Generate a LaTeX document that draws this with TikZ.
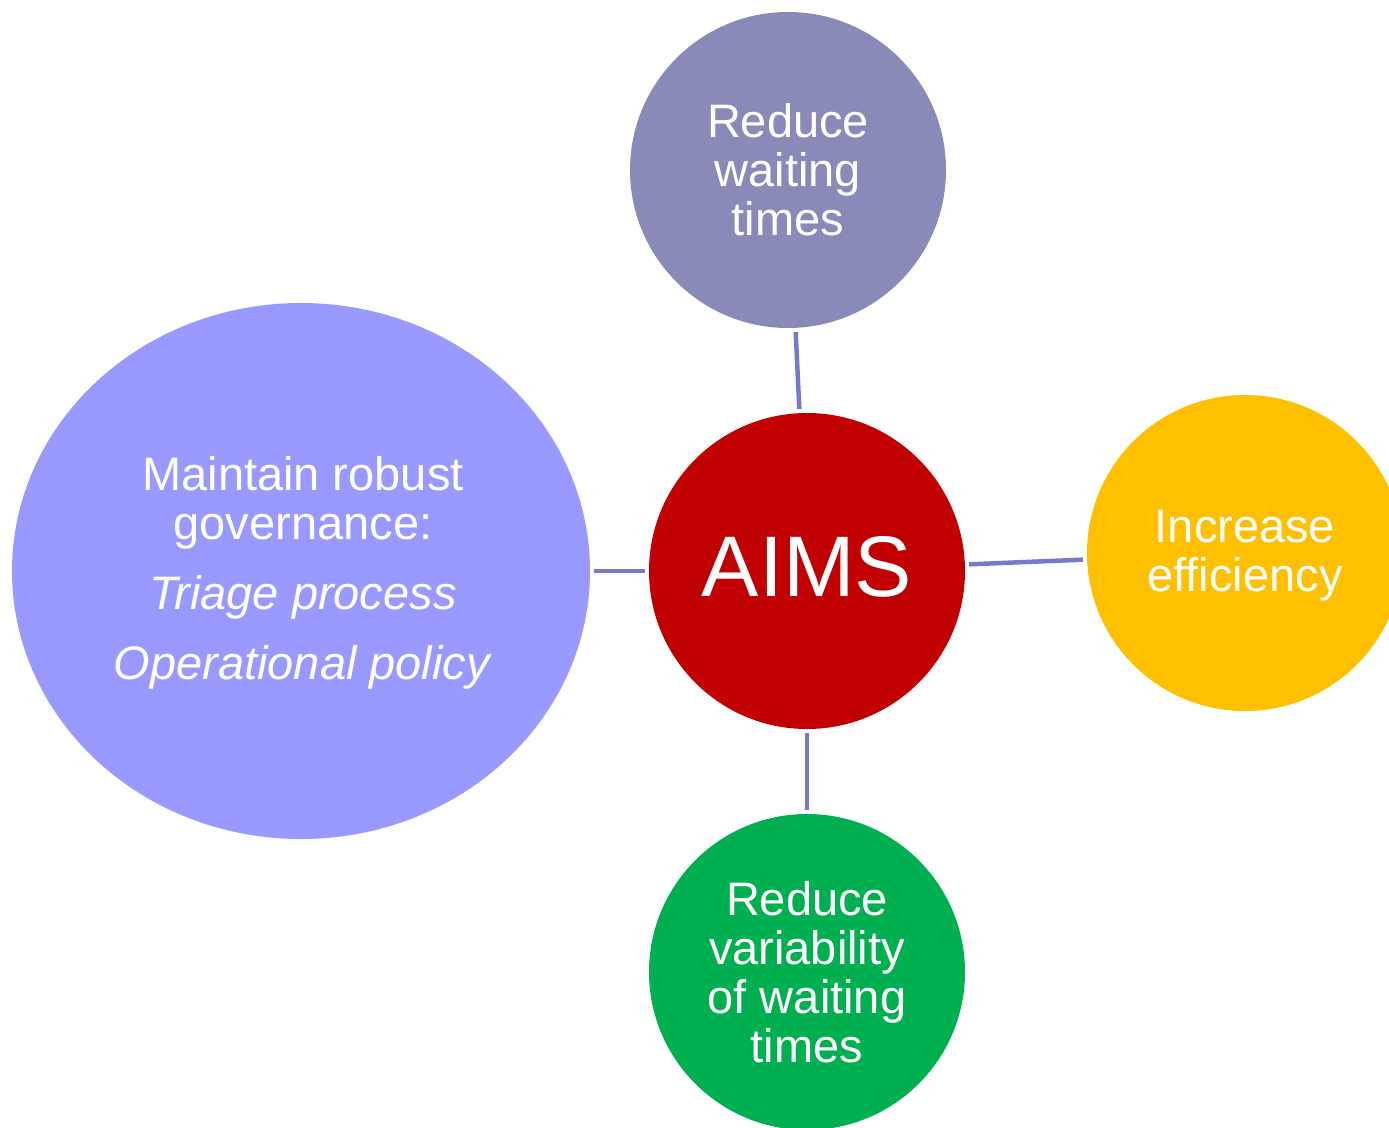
\documentclass[tikz,border=0pt]{standalone}
\usepackage{fontspec}
\setmainfont{Liberation Sans}
\usetikzlibrary{shapes.geometric}
\definecolor{aimsred}{HTML}{C00000}
\definecolor{waitpurple}{HTML}{8A8AB8}
\definecolor{effgold}{HTML}{FFC000}
\definecolor{varigreen}{HTML}{00B050}
\definecolor{govblue}{HTML}{9999FF}
\definecolor{linkblue}{HTML}{7878CC}
\begin{document}
\begin{tikzpicture}[x=1pt,y=-1pt,
  bubble/.style={circle,minimum size=316pt,inner sep=0pt,draw=none,
    text=white,align=center,font=\fontsize{47}{49}\selectfont},
  link/.style={draw=linkblue,line width=4.5pt,shorten <=4pt,shorten >=4pt}]
  \useasboundingbox (0,0) rectangle (1389,1127);
  \clip (0,0) rectangle (1389,1127);
  % hub and goals
  \node[bubble,fill=aimsred] (aims) at (807,571) {};
  \node[text=white,font=\fontsize{86}{90}\selectfont] (aimslabel) at (807,567) {AIMS};
  \node[bubble,fill=waitpurple] (wait) at (788,170) {Reduce\\waiting\\times};
  \node[bubble,fill=effgold] (eff) at (1245,553) {};
  \node[text=white,align=center,font=\fontsize{47}{49}\selectfont] (efflabel) at (1245,556) {Increase\\efficiency};
  \node[bubble,fill=varigreen] (vari) at (807,972) {Reduce\\variability\\of waiting\\times};
  \node[ellipse,minimum width=578pt,minimum height=536pt,inner sep=0pt,
    fill=govblue] (gov) at (301,571) {};
  \node[text=white,align=center,font=\fontsize{47}{49}\selectfont] (govlabel) at (303,573)
    {Maintain robust\\governance:\\[21pt]\textit{Triage process}\\[21pt]\textit{Operational policy}};
  % spokes
  \draw[link] (wait) -- (aims);
  \draw[link] (aims) -- (eff);
  \draw[link] (aims) -- (vari);
  \draw[link] (gov) -- (aims);
\end{tikzpicture}
\end{document}
